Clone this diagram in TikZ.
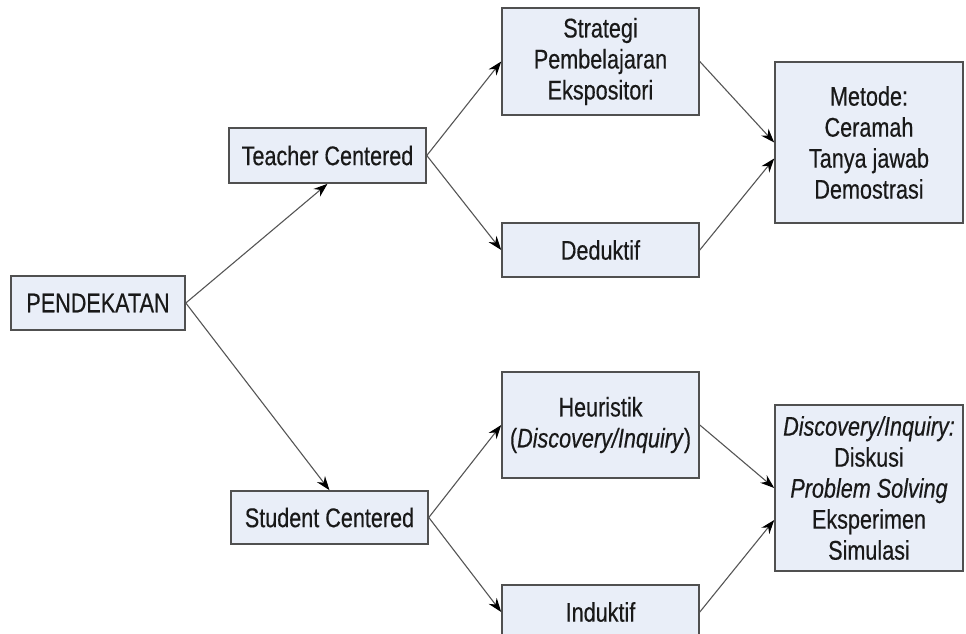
\documentclass[tikz,border=0pt]{standalone}
\usepackage{fontspec}
\setmainfont[FakeStretch=0.8,FakeBold=0.4]{Liberation Sans}
\usetikzlibrary{arrows.meta,calc}
\definecolor{boxfill}{HTML}{E9EEF8}
\definecolor{boxline}{HTML}{505050}
\definecolor{arrline}{HTML}{555555}
\begin{document}
\begin{tikzpicture}[x=1pt,y=-1pt,
  box/.style={draw=boxline, line width=1.6pt, fill=boxfill, align=center,
    inner sep=0pt, text=black!90, font=\fontsize{27}{31}\selectfont},
  conn/.style={draw=arrline, line width=1.1pt, -{Stealth[length=14pt,width=10pt,black]}}]
\useasboundingbox (0,0) rectangle (966,634);
\node[box, minimum width=174pt, minimum height=54pt] (pend) at (98,303) {PENDEKATAN};
\node[box, minimum width=197pt, minimum height=55pt] (teach) at (327.5,155.5) {Teacher Centered};
\node[box, minimum width=197pt, minimum height=53pt] (stud) at (329.5,517.5) {Student Centered};
\node[box, minimum width=197pt, minimum height=107pt] (strat) at (600.5,61.5) {Strategi\\Pembelajaran\\Ekspositori};
\node[box, minimum width=197pt, minimum height=54pt] (ded) at (600.5,250) {Deduktif};
\node[box, minimum width=197pt, minimum height=106pt] (heur) at (600.5,425) {Heuristik\\(\textit{Discovery/Inquiry})};
\node[box, minimum width=197pt, minimum height=54pt] (ind) at (600.5,612) {Induktif};
\node[box, minimum width=188pt, minimum height=161pt] (met) at (869,142.5) {Metode:\\Ceramah\\Tanya jawab\\Demostrasi};
\node[box, minimum width=188pt, minimum height=166pt] (disc) at (869,488) {\textit{Discovery/Inquiry:}\\Diskusi\\\textit{Problem Solving}\\Eksperimen\\Simulasi};
\coordinate (metlow) at ($(met.west)+(0,16)$);
\coordinate (disclow) at ($(disc.west)+(0,32)$);
\draw[conn] (pend.east) -- (teach.south);
\draw[conn] (pend.east) -- (stud.north);
\draw[conn] (teach.east) -- (strat.west);
\draw[conn] (teach.east) -- (ded.west);
\draw[conn] (stud.east) -- (heur.west);
\draw[conn] (stud.east) -- (ind.west);
\draw[conn] (strat.east) -- (met.west);
\draw[conn] (ded.east) -- (metlow);
\draw[conn] (heur.east) -- (disc.west);
\draw[conn] (ind.east) -- (disclow);
\end{tikzpicture}
\end{document}
